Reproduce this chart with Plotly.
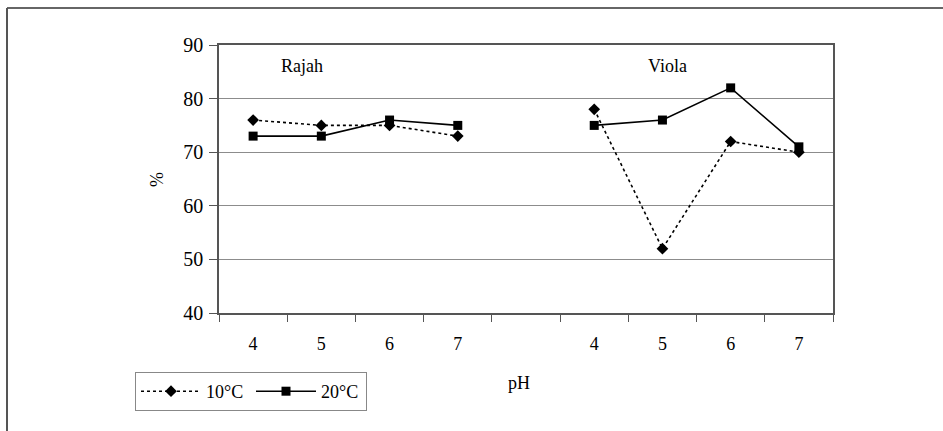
import plotly.graph_objects as go

# ---- data ----
ph_labels = ["4", "5", "6", "7"]
groups = ["Rajah", "Viola"]
rajah_10 = [76, 75, 75, 73]
rajah_20 = [73, 73, 76, 75]
viola_10 = [78, 52, 72, 70]
viola_20 = [75, 76, 82, 71]
y_ticks = [40, 50, 60, 70, 80, 90]

# category positions: 4 Rajah, one empty slot, 4 Viola
n = len(ph_labels)
x_rajah = list(range(n))
x_viola = list(range(n + 1, 2 * n + 1))
x_all = x_rajah + [n] + x_viola
y10 = rajah_10 + [None] + viola_10
y20 = rajah_20 + [None] + viola_20

FONT = "Liberation Serif, Times New Roman, serif"

fig = go.Figure()
fig.add_trace(go.Scatter(
    x=x_all, y=y10, name="10°C", mode="lines+markers", connectgaps=False,
    line=dict(color="black", width=1.6, dash="dot"),
    marker=dict(symbol="diamond", size=9, color="black"),
))
fig.add_trace(go.Scatter(
    x=x_all, y=y20, name="20°C", mode="lines+markers", connectgaps=False,
    line=dict(color="black", width=1.6),
    marker=dict(symbol="square", size=9, color="black"),
))

L, R, T, B = 219, 943 - 833, 45, 431 - 313
W, H = 943, 431
pw, ph = W - L - R, H - T - B

def px(xp):
    return (xp - L) / pw

def py(yp):
    return (H - B - yp) / ph

fig.update_layout(
    width=W, height=H,
    margin=dict(l=L, r=R, t=T, b=B, autoexpand=False),
    paper_bgcolor="white", plot_bgcolor="white",
    font=dict(family=FONT, color="black", size=18),
    showlegend=True,
    legend=dict(
        orientation="h", x=px(135), y=py(372), xanchor="left", yanchor="top",
        bordercolor="#888888", borderwidth=1, font=dict(size=18, family=FONT),
        itemwidth=60, tracegroupgap=0, bgcolor="white",
        entrywidth=40, entrywidthmode="pixels",
    ),
)

fig.update_xaxes(
    range=[-0.5, 2 * n + 0.5],
    tickmode="array",
    tickvals=x_rajah + x_viola,
    ticktext=ph_labels + ph_labels,
    ticks="", ticklabelstandoff=14,
    tickfont=dict(size=18, family=FONT),
    minor=dict(ticks="outside", tick0=-0.5, dtick=1, ticklen=7,
               tickcolor="#555555", tickwidth=1, showgrid=False),
    showline=True, linecolor="#555555", linewidth=1.5, mirror=True,
    showgrid=False, zeroline=False,
)
fig.update_yaxes(
    range=[40, 90], tickvals=y_ticks,
    ticks="outside", ticklen=8, tickcolor="#555555",
    tickfont=dict(size=20, family=FONT), ticklabelstandoff=2,
    showline=True, linecolor="#555555", linewidth=1.5, mirror=True,
    showgrid=True, gridcolor="#8c8c8c", gridwidth=1, zeroline=False,
)

# group labels
fig.add_annotation(x=x_rajah[0] + 0.72, y=86, text=groups[0],
                   showarrow=False, font=dict(size=18, family=FONT))
fig.add_annotation(x=x_viola[1] + 0.08, y=86, text=groups[1],
                   showarrow=False, font=dict(size=18, family=FONT))
# axis titles
fig.add_annotation(xref="paper", yref="paper", x=px(519), y=py(383), text="pH",
                   xanchor="center", yanchor="middle",
                   showarrow=False, font=dict(size=18, family=FONT))
fig.add_annotation(xref="paper", yref="paper", x=px(157), y=py(180), text="%",
                   xanchor="center", yanchor="middle",
                   textangle=-90, showarrow=False, font=dict(size=18, family=FONT))

# outer frame (top and left edges)
fig.add_shape(type="line", xref="paper", yref="paper", x0=px(7), x1=px(943),
              y0=py(8), y1=py(8), line=dict(color="#333333", width=1.5))
fig.add_shape(type="line", xref="paper", yref="paper", x0=px(7), x1=px(7),
              y0=py(8), y1=py(431), line=dict(color="#555555", width=2))

fig.write_html("out.html")
